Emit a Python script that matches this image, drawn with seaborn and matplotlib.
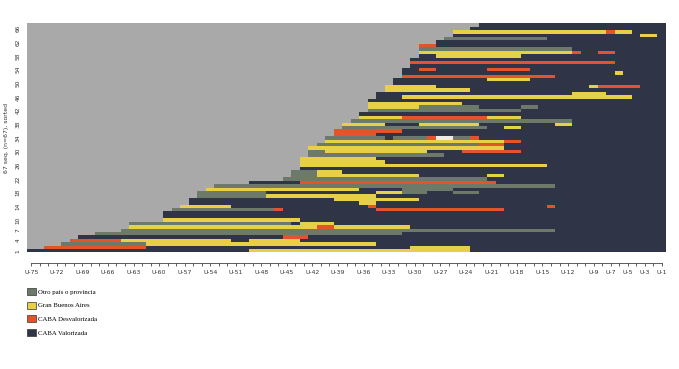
import numpy as np
import pandas as pd
import seaborn as sns
import matplotlib
matplotlib.use("Agg")
import matplotlib.pyplot as plt
from matplotlib.colors import ListedColormap
from matplotlib.patches import Patch

# ---------------- data ----------------
state_codes = ["M", "O", "G", "R", "V", "W"]
state_labels = ["Missing", "Otro país o provincia", "Gran Buenos Aires",
                "CABA Desvalorizada", "CABA Valorizada", "Otro"]
state_colors = ["#A9A9A9", "#6D7A6A", "#E8CF48", "#E2552C", "#2F3447", "#EFEDE2"]
legend_states = ["O", "G", "R", "V"]

time_points = ["U-%d" % n for n in range(75, 0, -1)]
shown_time_labels = ["U-75", "U-72", "U-69", "U-66", "U-63", "U-60", "U-57", "U-54",
                     "U-51", "U-48", "U-45", "U-42", "U-39", "U-36", "U-33", "U-30",
                     "U-27", "U-24", "U-21", "U-18", "U-15", "U-12", "U-9", "U-7",
                     "U-5", "U-3", "U-1"]
y_tick_seqs = [1, 4, 7, 10, 14, 18, 22, 26, 30, 34, 38, 42, 46, 50, 54, 58, 62, 66]

# each sequence (top -> bottom): tokens "<first column><state>", state holds until next token
sequences = [
    "53V",
    "52V",
    "50G 68R 69G 71V",
    "50V 72G 74V",
    "49O 61V",
    "48V",
    "46R 48V",
    "46O 64V",
    "46G 64R 65V 67R 69V",
    "46V 48G 58V",
    "45V",
    "45R 69V",
    "45V",
    "44V 46R 48V 54R 59V",
    "44V 69G 70V",
    "44R 62V",
    "43V 54G 59V",
    "43V",
    "42G 48V 66G 67R 72V",
    "42G 52V",
    "41V 64G 68V",
    "41V 44G 71V",
    "40V",
    "40G 51V",
    "40G 46O 53V 58O 60V",
    "40O 58V",
    "39V",
    "39G 44R 54G 58V",
    "38O 64V",
    "37G 42V 46G 53V 62G 64V",
    "37O 54V 56G 58V",
    "36R 44V",
    "36R 41V",
    "35O 42V 43O 47R 48W 50O 52R 53V",
    "35G 56R 58V",
    "34O 53R 56V",
    "33G 56V",
    "33O 35G 47V 51R 58V",
    "33O 49V",
    "32G 41V",
    "32G 42V",
    "32G 61V",
    "32V",
    "31O 34G 37V",
    "31O 34G 46V 54G 56V",
    "30O 54V",
    "26V 32R 55V",
    "22O 62V",
    "21G 39V 44O 50V",
    "20O 28V 41G 44O 47V 50O 53V",
    "20O 28G 41V",
    "19V 36G 46V",
    "19V 39G 41V",
    "18G 24V 40R 41V 61R 62V",
    "17O 29R 30V 41R 56V",
    "16V",
    "16V",
    "16G 32V",
    "12O 31V 32G 36V",
    "12G 34R 36G 45V",
    "11O 62V",
    "8O 44V",
    "6V 30R 33V",
    "5R 11G 24V 26G 32V",
    "4O 14G 41V",
    "2R 14V 45G 52V",
    "0V 26G 52V",
]

# ---------------- build matrix ----------------
n_t = len(time_points)
rows = []
for spec in sequences:
    toks = [(int(t[:-1]), t[-1]) for t in spec.split()]
    row = [state_codes.index("M")] * n_t
    for i, (k, s) in enumerate(toks):
        end = toks[i + 1][0] if i + 1 < len(toks) else n_t
        for c in range(k, end):
            row[c] = state_codes.index(s)
    rows.append(row)
n_seq = len(rows)
df = pd.DataFrame(rows, columns=time_points,
                  index=list(range(n_seq, 0, -1)))

# ---------------- plot ----------------
W, H = 679, 369
fig = plt.figure(figsize=(W / 100, H / 100), dpi=100)
ax = fig.add_axes([27 / W, 1 - 252.5 / H, 639 / W, 229.2 / H])

sns.heatmap(df, cmap=ListedColormap(state_colors), vmin=-0.5,
            vmax=len(state_colors) - 0.5, cbar=False, ax=ax,
            xticklabels=False, yticklabels=False, linewidths=0)

# x axis (R style, detached)
ax.set_xticks(np.arange(n_t) + 0.5)
ax.set_xticklabels([t if t in shown_time_labels else "" for t in time_points],
                   rotation=0)
for sp in ax.spines.values():
    sp.set_visible(False)
ax.spines["bottom"].set_visible(True)
ax.spines["bottom"].set_position(("outward", 7.8))
ax.spines["bottom"].set_bounds(0.5, n_t - 0.5)
ax.spines["bottom"].set_linewidth(0.6)
ax.spines["bottom"].set_color("#444444")
ax.tick_params(axis="x", length=2.4, width=0.6, color="#444444", pad=2.5,
               labelsize=4.4, labelcolor="#333333")

# y axis
ax.set_yticks([n_seq - s + 0.5 for s in y_tick_seqs])
ax.set_yticklabels([str(s) for s in y_tick_seqs], rotation=90, va="center")
ax.tick_params(axis="y", length=0, pad=4.5, labelsize=4.2, labelcolor="#333333")
ax.set_ylabel("%d seq. (n=%d), sorted" % (n_seq, n_seq), fontsize=4.4,
              color="#333333", labelpad=5)
ax.set_xlabel("")

# legend
handles = [Patch(facecolor=state_colors[state_codes.index(s)], edgecolor="#333333",
                 linewidth=0.5, label=state_labels[state_codes.index(s)])
           for s in legend_states]
fig.legend(handles=handles, loc="upper left",
           bbox_to_anchor=(26 / W, 1 - 286.5 / H), frameon=False,
           prop={"family": "Liberation Serif", "size": 4.9},
           handlelength=1.2, handleheight=1.2, handletextpad=0.3,
           labelspacing=1.0, borderpad=0.2, borderaxespad=0)

fig.savefig("out.png", dpi=100)
